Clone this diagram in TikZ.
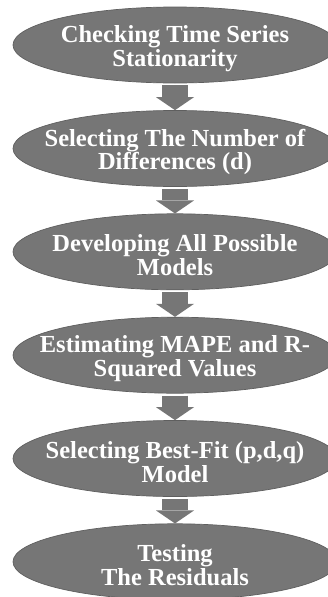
\documentclass[tikz,border=0pt]{standalone}
\usepackage{fontspec}
\setmainfont{Liberation Serif}
\usetikzlibrary{shapes.geometric,arrows.meta}
\definecolor{stepgray}{RGB}{118,118,118}
\definecolor{edgegray}{RGB}{95,95,95}
\tikzset{
  stepellipse/.style={ellipse, fill=stepgray, draw=edgegray, line width=0.7pt,
    minimum width=324pt, minimum height=76pt, inner sep=0pt},
  steptext/.style={text=white, align=center, inner sep=0pt,
    font=\fontsize{24.5pt}{23.5pt}\selectfont\bfseries},
  blockarrow/.style={draw=stepgray, line width=26pt, shorten <=2pt,
    -{Triangle[width=38pt,length=13pt,line width=0pt]}}
}
\begin{document}
\begin{tikzpicture}[x=1pt,y=1pt]
\useasboundingbox (0,0) rectangle (328,-597);
\clip (0,0) rectangle (328,-597);
\fill[white] (0,0) rectangle (328,-597);
\node[stepellipse] (e1) at (175,-45) {};
\node[stepellipse] (e2) at (175,-148.5) {};
\node[stepellipse] (e3) at (175,-251.8) {};
\node[stepellipse] (e4) at (175,-355.2) {};
\node[stepellipse] (e5) at (175,-458.5) {};
\node[stepellipse] (e6) at (175,-561.8) {};
\node[steptext] (t1) at (175,-48.5) {Checking Time Series\\Stationarity};
\node[steptext] (t2) at (175,-152) {Selecting The Number of\\Differences (d)};
\node[steptext] (t3) at (175,-255.3) {Developing All Possible\\Models};
\node[steptext] (t4) at (175,-358.7) {Estimating MAPE and R-\\Squared Values};
\node[steptext] (t5) at (175,-462) {Selecting Best-Fit (p,d,q)\\Model};
\node[steptext] (t6) at (175,-565.3) {Testing\\The Residuals};
\draw[blockarrow] (e1.south) -- (e2.north);
\draw[blockarrow] (e2.south) -- (e3.north);
\draw[blockarrow] (e3.south) -- (e4.north);
\draw[blockarrow] (e4.south) -- (e5.north);
\draw[blockarrow] (e5.south) -- (e6.north);
\end{tikzpicture}
\end{document}
